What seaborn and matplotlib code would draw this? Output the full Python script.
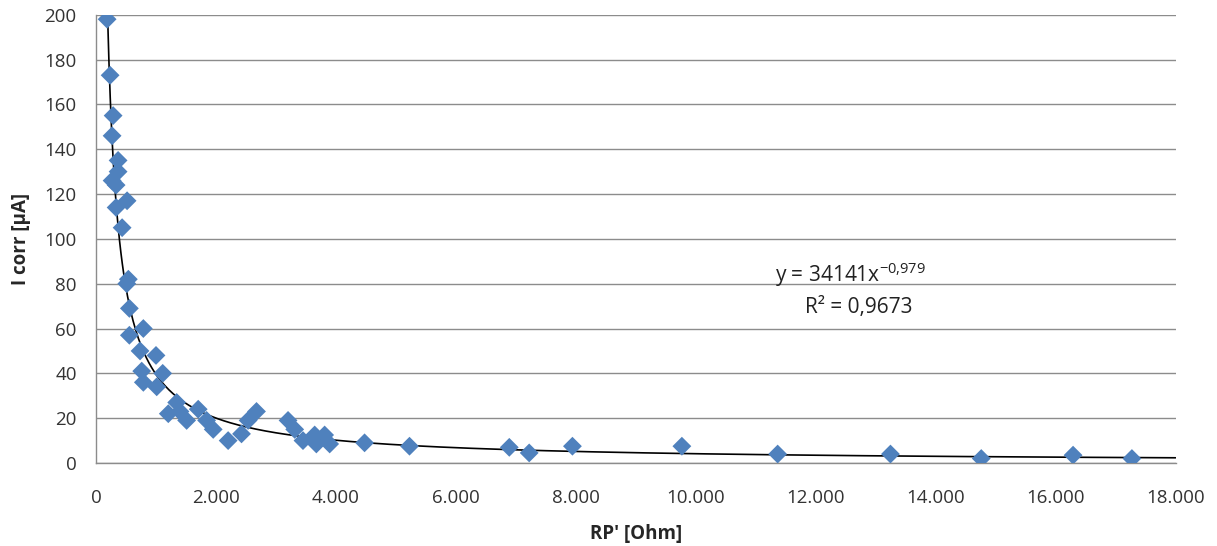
import numpy as np
import pandas as pd
import matplotlib
matplotlib.use("Agg")
import matplotlib.pyplot as plt
from matplotlib.ticker import FuncFormatter
import seaborn as sns

rp_ohm = [183, 233, 283, 266, 366, 366, 266, 333, 516, 333, 433,
          537, 511, 554, 554, 787, 732, 998, 760, 787, 1110, 1010,
          1343, 1203, 1398, 1509, 1702, 1842, 1952, 2201, 2424, 2534, 2674,
          3200, 3311, 3449, 3644, 3810, 3672, 3894, 4476,
          5225, 6889, 7221, 7942, 9767, 11364, 13245, 14759, 16290, 17271]
i_corr = [198, 173, 155, 146, 135, 130, 126, 124, 117, 114, 105,
          82, 80, 69, 57, 60, 50, 48, 41, 36, 40, 34,
          27, 22, 23, 19, 24, 19, 15, 10, 13, 19, 23,
          19, 15, 10, 12.5, 12.5, 8.5, 8.5, 9,
          7.5, 7, 4.5, 7.5, 7.5, 4, 4, 2, 3.5, 2]

# Power trendline as printed on the chart
fit_a = 34141
fit_b = -0.979
fit_r2 = "0,9673"

x_ticks = list(range(0, 18001, 2000))
y_ticks = list(range(0, 201, 20))

df = pd.DataFrame({"RP": rp_ohm, "Icorr": i_corr})

sns.set_theme(style="white")
plt.rcParams["font.family"] = ["Open Sans", "DejaVu Sans"]
plt.rcParams["mathtext.fontset"] = "custom"
plt.rcParams["mathtext.rm"] = "Open Sans"

fig = plt.figure(figsize=(12.17, 5.46), dpi=100)
ax = fig.add_axes([0.079, 0.152, 0.887, 0.821])

# trendline over the visible range
x_start = (fit_a / 200) ** (1 / -fit_b)
xs = np.linspace(x_start, 18000, 800)
trend = pd.DataFrame({"RP": xs, "Icorr": fit_a * xs ** fit_b})
sns.lineplot(data=trend, x="RP", y="Icorr", color="black", linewidth=1.2, ax=ax, zorder=2)

sns.scatterplot(data=df, x="RP", y="Icorr", marker="D", s=92, color="#4F81BD",
                edgecolor="none", ax=ax, zorder=3)

ax.set_xlim(0, 18000)
ax.set_ylim(0, 200)
ax.set_xticks(x_ticks)
ax.set_yticks(y_ticks)
ax.xaxis.set_major_formatter(FuncFormatter(lambda v, p: f"{v:,.0f}".replace(",", ".")))
ax.yaxis.grid(True, color="#8c8c8c", linewidth=1)
ax.xaxis.grid(False)
ax.set_axisbelow(True)

for s in ["top", "right"]:
    ax.spines[s].set_visible(False)
for s in ["left", "bottom"]:
    ax.spines[s].set_color("#8c8c8c")
    ax.spines[s].set_linewidth(1)
ax.tick_params(axis="both", direction="out", length=5, width=1, color="#8c8c8c",
               labelsize=13.5, labelcolor="#333333")
ax.tick_params(axis="y", pad=9)
ax.tick_params(axis="x", pad=14)

ax.set_xlabel("RP' [Ohm]", fontsize=13.5, fontweight="bold", labelpad=12)
ax.set_ylabel("I corr [µA]", fontsize=13.5, fontweight="bold", labelpad=10)

ax.text(12578, 84, r"y = 34141x$^{\mathregular{-0{,}979}}$", fontsize=15,
        color="#222222", ha="center", va="center")
ax.text(12711, 69.5, f"R² = {fit_r2}", fontsize=15, color="#222222",
        ha="center", va="center")

fig.savefig("out.png", dpi=100)
